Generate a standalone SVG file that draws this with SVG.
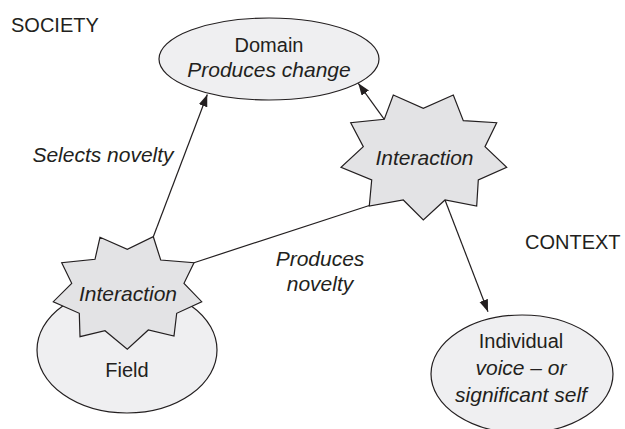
<svg xmlns="http://www.w3.org/2000/svg" width="625" height="429" viewBox="0 0 625 429">
<style>
.ell{fill:#efeff1;stroke:#231f20;stroke-width:1.2}
.star{fill:#e3e3e5;stroke:#231f20;stroke-width:1.2;stroke-linejoin:miter}
.t{font-family:"Liberation Sans",Arial,sans-serif;font-size:20px;fill:#231f20;text-anchor:middle}
.i{font-style:italic;font-size:21px}
.l{text-anchor:start}
.c{fill:none;stroke:#231f20;stroke-width:1.2}
</style>
<defs>
<marker id="ah" markerUnits="userSpaceOnUse" markerWidth="13" markerHeight="10" refX="12" refY="4.5" orient="auto">
<path d="M0,0 L12,4.5 L0,9 z" fill="#231f20"/>
</marker>
</defs>
<rect width="625" height="429" fill="#ffffff"/>
<text class="t l" x="11" y="32">SOCIETY</text>
<text class="t l" x="525" y="249">CONTEXT</text>
<text class="t i" x="103" y="162">Selects novelty</text>
<text class="t i" x="320" y="266">Produces</text>
<text class="t i" x="320" y="291">novelty</text>
<g id="domain">
<ellipse class="ell" cx="269" cy="59" rx="110" ry="41"/>
<text class="t" x="269" y="52">Domain</text>
<text class="t i" x="269" y="77">Produces change</text>
</g>
<g id="field">
<ellipse class="ell" cx="127" cy="350" rx="90" ry="63"/>
<text class="t" x="127" y="377">Field</text>
</g>
<g id="interaction-field">
<polygon class="star" points="100,237.3 127.3,249.3 153.3,236.7 160.7,260 194,262.7 184,283.3 201.7,301.7 176.7,313.3 174,336 148.3,330 127.3,349.3 105,330.7 80,336.7 79.3,313.3 53.3,301.7 71.7,283.3 61.7,262.7 95,259.3"/>
<text class="t i" x="128" y="301">Interaction</text>
</g>
<g id="interaction-individual">
<polygon class="star" points="393.3,95 423.3,108.3 453.3,95 463.3,120.7 496.7,122.7 485,146.7 506.7,167.3 478.3,180 476.7,206 445,200 423.3,220 403.3,200 369.3,206 371.7,180 341,167.3 363.3,146.7 350.7,122.7 384.3,119.3"/>
<text class="t i" x="424.5" y="165">Interaction</text>
</g>
<g id="individual">
<ellipse class="ell" cx="522" cy="374" rx="91" ry="59"/>
<text class="t" x="521" y="348">Individual</text>
<text class="t i" x="521" y="375">voice – or</text>
<text class="t i" x="521" y="402">significant self</text>
</g>
<g id="connectors">
<line class="c" x1="153.3" y1="236.7" x2="207.3" y2="94.5" marker-end="url(#ah)"/>
<line class="c" x1="384.3" y1="119.3" x2="358.3" y2="83.3" marker-end="url(#ah)"/>
<line class="c" x1="445" y1="200" x2="488" y2="311.7" marker-end="url(#ah)"/>
<line class="c" x1="194" y1="262.7" x2="369.3" y2="205.5"/>
</g>
</svg>
